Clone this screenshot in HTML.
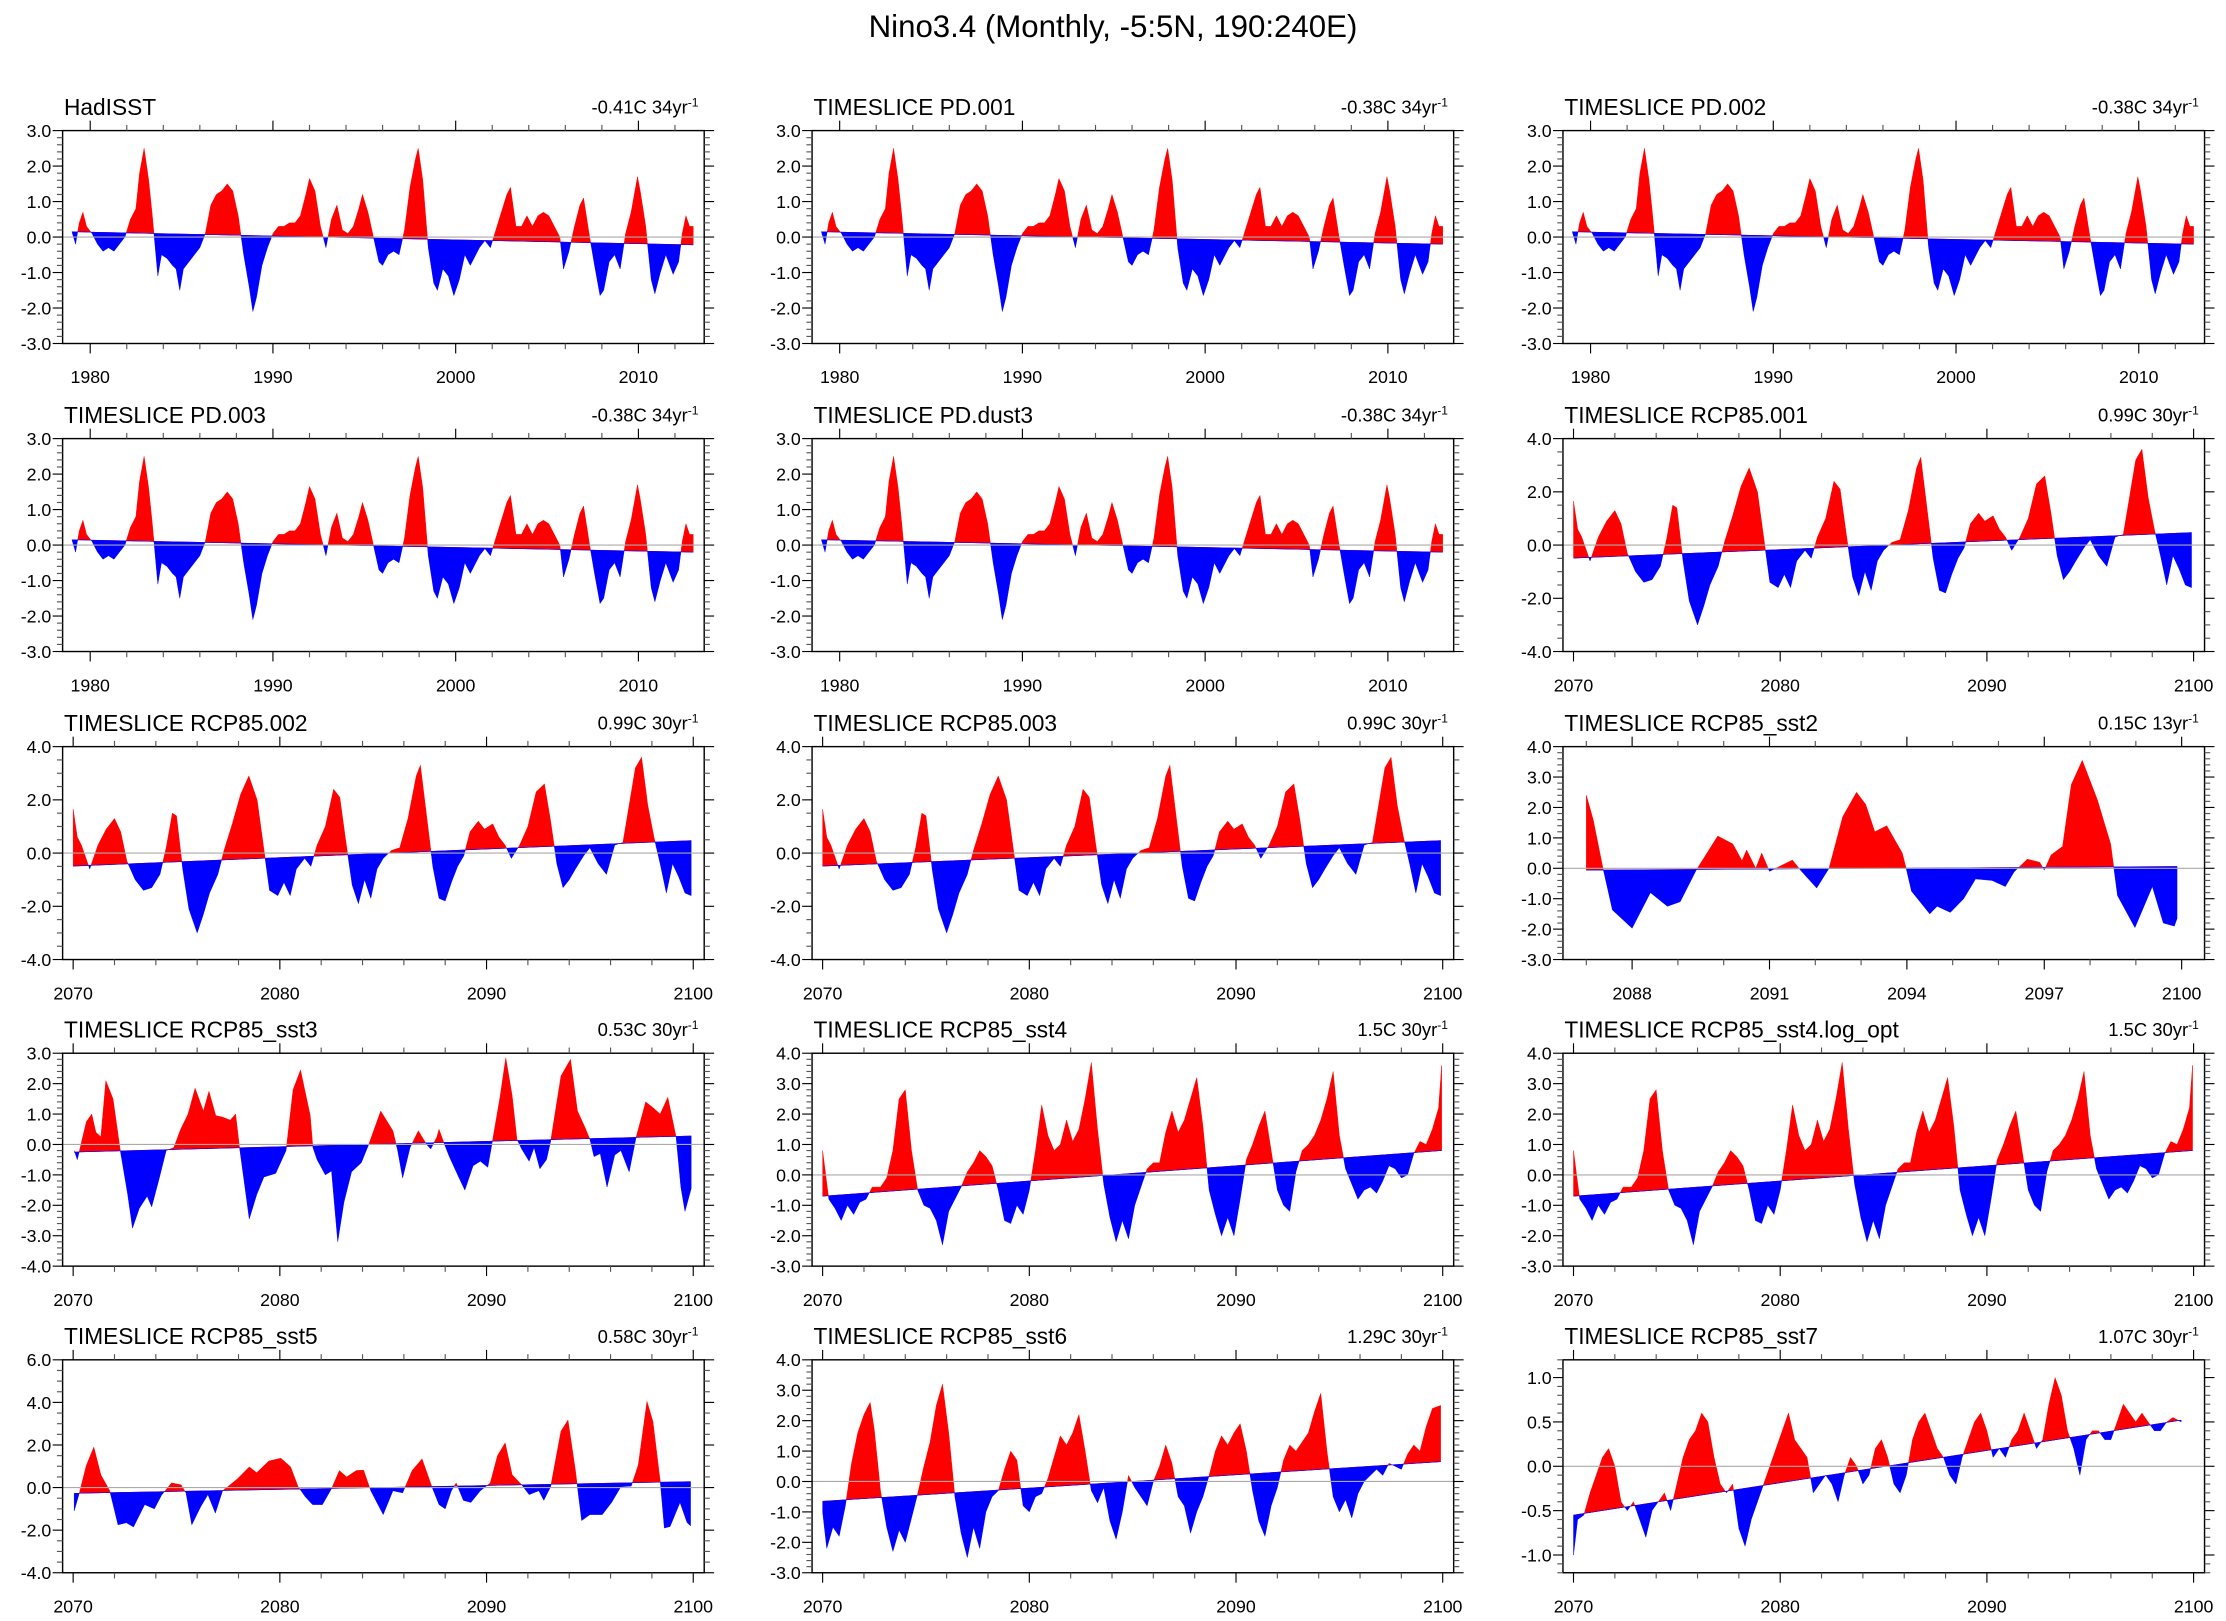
<!DOCTYPE html>
<html><head><meta charset="utf-8"><title>Nino3.4</title>
<style>html,body{margin:0;padding:0;background:#fff}svg{display:block}text{font-family:"Liberation Sans",Arial,sans-serif;fill:#000}</style>
</head><body>
<svg id="chart" xmlns="http://www.w3.org/2000/svg" width="2226" height="1621" viewBox="0 0 1568 1142">
<rect x="0" y="0" width="1568" height="1142" fill="#fff"/>
<text x="784" y="26" font-size="22" text-anchor="middle">Nino3.4 (Monthly, -5:5N, 190:240E)</text>
<g id="panels"></g>
</svg>
<script>
// ---- data (times in decimal years, values in degC) ----
const hadT=[1979.0,1979.2,1979.4,1979.6,1979.8,1980.1,1980.4,1980.7,1981.0,1981.3,1981.6,1981.9,1982.2,1982.5,1982.7,1982.95,1983.2,1983.4,1983.7,1983.9,1984.2,1984.5,1984.7,1984.9,1985.1,1985.4,1985.7,1986.0,1986.3,1986.6,1986.9,1987.2,1987.5,1987.8,1988.1,1988.4,1988.7,1988.9,1989.1,1989.4,1989.7,1990.0,1990.3,1990.6,1990.9,1991.2,1991.5,1991.8,1992.0,1992.3,1992.6,1992.9,1993.2,1993.5,1993.8,1994.1,1994.4,1994.7,1994.9,1995.2,1995.5,1995.8,1996.0,1996.3,1996.6,1996.9,1997.2,1997.5,1997.8,1997.95,1998.2,1998.5,1998.8,1999.0,1999.3,1999.6,1999.9,2000.2,2000.5,2000.8,2001.0,2001.3,2001.6,2001.9,2002.2,2002.5,2002.8,2003.0,2003.3,2003.6,2003.9,2004.2,2004.5,2004.8,2005.1,2005.4,2005.7,2005.9,2006.2,2006.5,2006.8,2007.0,2007.3,2007.6,2007.9,2008.1,2008.4,2008.7,2009.0,2009.3,2009.6,2009.95,2010.1,2010.4,2010.7,2010.9,2011.2,2011.5,2011.9,2012.2,2012.4,2012.6,2012.8,2013.0];
const hadV=[0.15,-0.2,0.4,0.7,0.3,0.1,-0.2,-0.4,-0.3,-0.4,-0.2,0.0,0.5,0.8,1.8,2.5,1.6,0.6,-1.1,-0.5,-0.6,-0.8,-0.9,-1.5,-0.9,-0.7,-0.5,-0.3,0.1,0.9,1.2,1.3,1.5,1.3,0.6,-0.5,-1.4,-2.1,-1.7,-0.8,-0.3,0.1,0.3,0.3,0.4,0.4,0.6,1.2,1.65,1.3,0.3,-0.3,0.5,0.9,0.2,0.1,0.3,0.8,1.2,0.7,0.0,-0.7,-0.8,-0.5,-0.4,-0.5,0.2,1.4,2.2,2.5,1.6,-0.3,-1.3,-1.5,-0.9,-1.1,-1.65,-1.2,-0.5,-0.8,-0.6,-0.3,-0.1,-0.3,0.2,0.7,1.2,1.4,0.3,0.3,0.6,0.3,0.6,0.7,0.6,0.3,0.0,-0.9,-0.4,0.3,0.9,1.1,0.1,-0.8,-1.65,-1.5,-0.7,-0.5,-0.9,0.1,0.7,1.7,1.3,0.3,-1.2,-1.6,-1.0,-0.5,-1.05,-0.7,0.1,0.6,0.3,0.3];

const r1T=[2070.0,2070.2,2070.4,2070.8,2071.2,2071.6,2072.0,2072.3,2072.6,2073.0,2073.4,2073.8,2074.2,2074.5,2074.8,2075.0,2075.3,2075.6,2076.0,2076.3,2076.6,2077.0,2077.3,2077.7,2078.1,2078.5,2078.9,2079.2,2079.5,2079.9,2080.2,2080.5,2080.8,2081.2,2081.5,2081.8,2082.2,2082.6,2082.9,2083.2,2083.5,2083.8,2084.1,2084.4,2084.7,2085.0,2085.4,2085.8,2086.2,2086.6,2086.8,2087.1,2087.4,2087.7,2088.0,2088.3,2088.6,2088.9,2089.2,2089.6,2089.9,2090.3,2090.6,2090.9,2091.2,2091.6,2092.0,2092.4,2092.8,2093.1,2093.4,2093.7,2094.0,2094.3,2094.7,2095.0,2095.4,2095.8,2096.2,2096.6,2096.9,2097.2,2097.5,2097.8,2098.1,2098.4,2098.7,2099.0,2099.3,2099.6,2099.9];
const r1V=[1.65,0.6,0.3,-0.6,0.3,0.9,1.3,0.8,-0.3,-1.0,-1.4,-1.3,-0.8,0.2,1.5,1.4,-0.6,-2.1,-3.0,-2.3,-1.5,-0.8,0.1,1.1,2.2,2.9,2.0,0.3,-1.4,-1.6,-1.1,-1.6,-0.6,-0.2,-0.5,0.3,1.0,2.4,2.1,0.4,-1.2,-1.9,-1.0,-1.7,-0.6,-0.2,0.1,0.2,1.3,2.9,3.3,1.4,-0.5,-1.7,-1.8,-1.1,-0.5,-0.1,0.8,1.2,0.9,1.1,0.6,0.3,-0.2,0.3,1.0,2.3,2.6,1.2,-0.4,-1.3,-1.0,-0.6,-0.1,0.2,-0.4,-0.8,0.3,0.4,1.8,3.2,3.6,1.8,0.6,-0.4,-1.5,-0.4,-0.9,-1.5,-1.6];

const s2T=[2087.0,2087.15,2087.35,2087.57,2088.0,2088.4,2088.77,2089.05,2089.4,2089.87,2090.2,2090.4,2090.5,2090.7,2090.83,2091.0,2091.5,2091.7,2092.03,2092.3,2092.6,2092.9,2093.1,2093.3,2093.56,2093.9,2094.0,2094.1,2094.5,2094.66,2094.95,2095.24,2095.5,2095.86,2096.15,2096.34,2096.63,2096.9,2097.0,2097.15,2097.4,2097.59,2097.83,2098.16,2098.45,2098.6,2098.98,2099.36,2099.6,2099.84,2099.9];
const s2V=[2.4,1.6,0.1,-1.37,-1.97,-0.8,-1.25,-1.1,-0.06,1.06,0.8,0.25,0.6,0.0,0.5,-0.1,0.27,-0.1,-0.65,0.0,1.7,2.5,2.1,1.2,1.4,0.5,-0.1,-0.75,-1.5,-1.25,-1.45,-1.0,-0.35,-0.4,-0.6,-0.12,0.3,0.2,-0.06,0.44,0.72,2.75,3.55,2.25,0.8,-0.9,-1.95,-0.6,-1.8,-1.9,-1.65];

const s3T=[2070.05,2070.2,2070.64,2070.9,2071.1,2071.34,2071.58,2071.93,2072.28,2072.64,2072.87,2073.2,2073.58,2073.8,2074.17,2074.5,2074.87,2075.2,2075.56,2075.9,2076.3,2076.57,2076.9,2077.23,2077.6,2077.86,2078.05,2078.52,2078.88,2079.23,2079.8,2080.3,2080.64,2081.0,2081.47,2081.6,2081.8,2082.2,2082.5,2082.8,2083.1,2083.47,2083.94,2084.3,2084.88,2085.47,2085.7,2085.94,2086.3,2086.7,2087.1,2087.3,2087.6,2087.7,2087.94,2088.2,2088.65,2088.95,2089.35,2089.7,2090.06,2090.3,2090.65,2090.93,2091.24,2091.47,2091.7,2092.06,2092.3,2092.58,2092.9,2093.1,2093.6,2094.06,2094.4,2094.77,2095.0,2095.2,2095.5,2095.83,2096.2,2096.5,2096.9,2097.24,2097.7,2098.07,2098.4,2098.77,2099.17,2099.4,2099.6,2099.9];
const s3V=[-0.2,-0.5,0.75,1.0,0.4,0.25,2.1,1.5,-0.2,-1.65,-2.75,-2.1,-1.7,-2.05,-1.1,-0.2,-0.1,0.5,1.0,1.85,1.1,1.75,0.95,0.9,0.8,1.0,-0.1,-2.45,-1.65,-1.07,-0.95,-0.2,1.8,2.45,0.95,-0.1,-0.5,-1.0,-0.87,-3.2,-1.9,-0.9,-0.6,0.0,1.1,0.45,-0.2,-1.1,-0.1,0.45,0.0,-0.15,0.25,0.5,0.05,-0.4,-1.07,-1.5,-0.7,-0.55,-0.75,0.17,1.55,2.85,1.6,0.17,-0.15,-0.55,-0.1,-0.8,-0.5,0.1,2.25,2.8,1.1,0.55,0.17,-0.4,-0.3,-1.4,-0.35,-0.2,-0.9,0.25,1.4,1.2,1.0,1.55,0.25,-1.4,-2.2,-1.45];

const s4T=[2070.0,2070.3,2070.6,2070.9,2071.2,2071.5,2071.8,2072.1,2072.4,2072.8,2073.1,2073.4,2073.7,2074.0,2074.3,2074.6,2074.9,2075.2,2075.5,2075.8,2076.1,2076.4,2076.7,2077.0,2077.3,2077.6,2077.9,2078.2,2078.5,2078.8,2079.1,2079.4,2079.7,2080.0,2080.3,2080.6,2080.9,2081.2,2081.5,2081.8,2082.1,2082.4,2082.7,2083.0,2083.3,2083.6,2083.9,2084.2,2084.5,2084.8,2085.1,2085.4,2085.7,2086.0,2086.3,2086.6,2086.9,2087.2,2087.5,2087.8,2088.1,2088.4,2088.7,2089.0,2089.3,2089.6,2089.9,2090.2,2090.5,2090.8,2091.1,2091.4,2091.7,2092.0,2092.3,2092.6,2092.9,2093.2,2093.5,2093.8,2094.1,2094.4,2094.7,2095.0,2095.3,2095.6,2095.9,2096.2,2096.5,2096.8,2097.1,2097.4,2097.7,2098.0,2098.3,2098.6,2098.9,2099.2,2099.5,2099.8,2099.95];
const s4V=[0.8,-0.8,-1.1,-1.5,-1.0,-1.3,-0.9,-0.8,-0.4,-0.4,-0.1,0.8,2.5,2.8,0.8,-0.5,-1.0,-1.1,-1.5,-2.3,-1.2,-0.8,-0.4,0.1,0.4,0.8,0.6,0.3,-0.5,-1.5,-1.6,-1.0,-1.3,-0.5,0.8,2.3,1.3,0.8,1.0,1.8,1.1,1.5,2.5,3.7,1.5,-0.3,-1.4,-2.2,-1.5,-2.1,-1.0,-0.4,0.2,0.4,0.4,1.4,2.1,1.4,1.8,2.5,3.2,1.6,-0.5,-1.3,-2.0,-1.4,-2.0,-0.8,0.5,1.0,1.6,2.1,0.8,-0.5,-1.0,-1.2,0.1,0.8,1.0,1.3,1.8,2.5,3.4,1.3,0.2,-0.3,-0.8,-0.5,-0.4,-0.6,-0.2,0.3,0.2,-0.1,0.0,0.7,1.1,1.0,1.5,2.2,3.6];

const s5T=[2070.05,2070.3,2070.64,2071.0,2071.34,2071.77,2072.17,2072.57,2072.92,2073.46,2073.93,2074.28,2074.76,2075.22,2075.46,2075.74,2076.17,2076.52,2076.88,2077.23,2077.94,2078.52,2078.88,2079.47,2080.05,2080.52,2080.88,2081.23,2081.58,2082.06,2082.5,2082.88,2083.23,2083.7,2084.05,2084.4,2085.0,2085.47,2085.94,2086.4,2086.88,2087.35,2087.7,2088.0,2088.3,2088.53,2088.88,2089.24,2089.7,2090.18,2090.53,2090.9,2091.24,2091.7,2092.06,2092.53,2092.77,2093.1,2093.6,2093.94,2094.3,2094.6,2095.0,2095.6,2096.05,2096.5,2097.0,2097.34,2097.76,2098.05,2098.4,2098.6,2098.88,2099.36,2099.7,2099.87];
const s5V=[-1.1,-0.25,1.05,1.9,0.6,-0.15,-1.75,-1.65,-1.85,-0.8,-1.0,-0.35,0.22,0.13,-0.25,-1.75,-0.9,-0.33,-1.2,-0.15,0.4,0.97,0.7,1.25,1.38,0.97,0.05,-0.43,-0.8,-0.8,-0.05,0.8,0.5,0.8,0.82,-0.15,-1.27,-0.15,-0.25,0.8,1.35,0.05,-0.8,-1.0,-0.15,0.22,-0.6,-0.7,-0.15,0.22,1.5,2.1,0.6,0.13,-0.33,-0.15,-0.6,0.04,2.65,3.17,0.8,-1.55,-1.27,-1.27,-0.7,0.04,0.07,1.06,4.05,3.1,0.32,-1.9,-1.83,-0.7,-1.64,-1.8];

const s6T=[2070.0,2070.2,2070.5,2070.8,2071.1,2071.4,2071.7,2072.0,2072.3,2072.5,2072.8,2073.1,2073.4,2073.7,2074.0,2074.3,2074.6,2074.9,2075.2,2075.5,2075.8,2076.1,2076.4,2076.7,2077.0,2077.3,2077.6,2077.9,2078.2,2078.5,2078.8,2079.1,2079.4,2079.7,2080.0,2080.3,2080.6,2080.9,2081.2,2081.5,2081.8,2082.1,2082.4,2082.7,2083.0,2083.3,2083.6,2083.9,2084.2,2084.5,2084.8,2085.1,2085.4,2085.7,2086.0,2086.3,2086.6,2086.9,2087.2,2087.5,2087.8,2088.1,2088.4,2088.7,2089.0,2089.3,2089.6,2089.9,2090.2,2090.5,2090.8,2091.1,2091.4,2091.7,2092.0,2092.3,2092.6,2092.9,2093.2,2093.5,2093.8,2094.1,2094.4,2094.7,2095.0,2095.3,2095.6,2095.9,2096.2,2096.5,2096.8,2097.1,2097.4,2097.7,2098.0,2098.3,2098.6,2098.9,2099.2,2099.5,2099.9];
const s6V=[-1.0,-2.2,-1.5,-1.8,-0.8,0.6,1.6,2.2,2.6,1.7,-0.3,-1.5,-2.3,-1.6,-2.0,-1.2,-0.4,0.5,1.3,2.5,3.2,1.6,-0.5,-1.7,-2.5,-1.5,-2.2,-1.0,-0.5,-0.3,0.4,1.0,0.7,-0.8,-1.0,-0.5,-0.4,0.1,0.8,1.5,1.2,1.6,2.2,1.0,-0.3,-0.7,-0.2,-1.3,-1.9,-1.0,0.2,-0.2,-0.5,-0.8,0.0,0.5,1.2,0.6,-0.5,-0.8,-1.7,-1.0,-0.5,0.2,1.0,1.5,1.2,1.6,1.9,1.0,-0.3,-1.3,-1.8,-0.8,-0.2,0.7,1.2,1.0,1.3,1.6,2.3,2.9,1.0,-0.5,-1.0,-0.6,-1.2,-0.4,0.0,0.2,0.4,0.2,0.6,0.5,0.4,0.9,1.2,1.0,1.8,2.4,2.5];

const s7T=[2070.0,2070.2,2070.5,2070.8,2071.1,2071.4,2071.7,2072.0,2072.3,2072.6,2072.9,2073.2,2073.5,2073.8,2074.1,2074.4,2074.7,2075.0,2075.3,2075.6,2075.9,2076.2,2076.5,2076.8,2077.1,2077.4,2077.7,2078.0,2078.3,2078.6,2078.9,2079.2,2079.5,2079.8,2080.1,2080.4,2080.7,2081.0,2081.3,2081.6,2081.9,2082.2,2082.5,2082.8,2083.1,2083.4,2083.7,2084.0,2084.3,2084.6,2084.9,2085.2,2085.5,2085.8,2086.1,2086.4,2086.7,2087.0,2087.3,2087.6,2087.9,2088.2,2088.5,2088.8,2089.1,2089.4,2089.7,2090.0,2090.3,2090.6,2090.9,2091.2,2091.5,2091.8,2092.1,2092.4,2092.7,2093.0,2093.3,2093.6,2093.9,2094.2,2094.5,2094.8,2095.1,2095.4,2095.7,2096.0,2096.3,2096.6,2096.9,2097.2,2097.5,2097.8,2098.1,2098.4,2098.7,2099.0,2099.4];
const s7V=[-1.0,-0.6,-0.55,-0.3,-0.1,0.1,0.2,0.0,-0.4,-0.5,-0.4,-0.6,-0.8,-0.5,-0.4,-0.3,-0.5,-0.2,0.1,0.3,0.4,0.6,0.5,0.1,-0.2,-0.3,-0.2,-0.7,-0.9,-0.6,-0.4,-0.2,0.0,0.2,0.4,0.6,0.3,0.2,0.1,-0.3,-0.2,-0.1,-0.2,-0.4,-0.1,0.1,0.0,-0.2,-0.1,0.2,0.3,0.1,-0.2,-0.3,-0.1,0.3,0.5,0.6,0.4,0.2,0.1,-0.1,-0.2,0.1,0.3,0.5,0.6,0.4,0.1,0.2,0.1,0.3,0.4,0.6,0.4,0.2,0.3,0.7,1.0,0.8,0.4,0.2,-0.1,0.3,0.4,0.4,0.3,0.3,0.5,0.7,0.6,0.5,0.6,0.5,0.4,0.4,0.5,0.55,0.5];

// trend line endpoint values [start, end] at first/last sample
const trendHad=[0.15,-0.22];
const trendPD=[0.15,-0.2];
const trendR1=[-0.49,0.47];
const trendS2=[-0.06,0.06];
const trendS3=[-0.25,0.28];
const trendS4=[-0.7,0.8];
const trendS5=[-0.27,0.28];
const trendS6=[-0.65,0.65];
const trendS7=[-0.55,0.52];

const titles=['HadISST','TIMESLICE PD.001','TIMESLICE PD.002','TIMESLICE PD.003','TIMESLICE PD.dust3','TIMESLICE RCP85.001','TIMESLICE RCP85.002','TIMESLICE RCP85.003','TIMESLICE RCP85_sst2','TIMESLICE RCP85_sst3','TIMESLICE RCP85_sst4','TIMESLICE RCP85_sst4.log_opt','TIMESLICE RCP85_sst5','TIMESLICE RCP85_sst6','TIMESLICE RCP85_sst7'];
const rightLabels=['-0.41C 34yr','-0.38C 34yr','-0.38C 34yr','-0.38C 34yr','-0.38C 34yr','0.99C 30yr','0.99C 30yr','0.99C 30yr','0.15C 13yr','0.53C 30yr','1.5C 30yr','1.5C 30yr','0.58C 30yr','1.29C 30yr','1.07C 30yr'];
const seriesT=[hadT,hadT,hadT,hadT,hadT,r1T,r1T,r1T,s2T,s3T,s4T,s4T,s5T,s6T,s7T];
const seriesV=[hadV,hadV,hadV,hadV,hadV,r1V,r1V,r1V,s2V,s3V,s4V,s4V,s5V,s6V,s7V];
const trends=[trendHad,trendPD,trendPD,trendPD,trendPD,trendR1,trendR1,trendR1,trendS2,trendS3,trendS4,trendS4,trendS5,trendS6,trendS7];
// axis ranges [min,max,major,minor]
const yAxes=[[-3,3,1,0.2],[-3,3,1,0.2],[-3,3,1,0.2],[-3,3,1,0.2],[-3,3,1,0.2],[-4,4,2,0.5],[-4,4,2,0.5],[-4,4,2,0.5],[-3,4,1,0.2],[-4,3,1,0.2],[-3,4,1,0.2],[-3,4,1,0.2],[-4,6,2,0.5],[-3,4,1,0.2],[-1.2,1.2,0.5,0.1]];
const xPD=[1978.49,2013.6,1980,10,2], xRCP=[2069.49,2100.53,2070,10,2], xS2=[2086.49,2100.5,2088,3,1];
const xAxes=[xPD,xPD,xPD,xPD,xPD,xRCP,xRCP,xRCP,xS2,xRCP,xRCP,xRCP,xRCP,xRCP,xRCP];

const NS='http://www.w3.org/2000/svg';
const colX=[44,572,1101], rowY=[92,309,526,742,958], PW=452, PH=150;
function mk(tag,attrs,parent){const e=document.createElementNS(NS,tag);for(const k in attrs)e.setAttribute(k,attrs[k]);parent.appendChild(e);return e;}
const root=document.getElementById('panels');

for(let i=0;i<15;i++){
  const x0=colX[i%3], y0=rowY[Math.floor(i/3)];
  const [ymin,ymax,ymaj,ymin2]=yAxes[i];
  const [xmin,xmax,xlab0,xmaj,xmin2]=xAxes[i];
  const sx=t=>x0+(t-xmin)/(xmax-xmin)*PW;
  const sy=v=>y0+(ymax-v)/(ymax-ymin)*PH;
  const ts=seriesT[i], vs=seriesV[i], tr=trends[i];
  const t0=ts[0], t1=ts[ts.length-1];
  const trf=t=>tr[0]+(tr[1]-tr[0])*(t-t0)/(t1-t0);
  const g=mk('g',{},root);
  
  
  const pts=[];
  for(let k=0;k<ts.length;k++){
    const d=vs[k]-trf(ts[k]);
    if(k>0){const dp=vs[k-1]-trf(ts[k-1]);
      if(dp*d<0){const f=dp/(dp-d);const tc=ts[k-1]+f*(ts[k]-ts[k-1]);pts.push([tc,trf(tc)]);}}
    pts.push([ts[k],vs[k]]);
  }
  let up='',dn='';
  pts.forEach((p,k)=>{const b=trf(p[0]);const c=(k?'L':'M');
    up+=c+sx(p[0]).toFixed(2)+','+sy(Math.max(p[1],b)).toFixed(2);
    dn+=c+sx(p[0]).toFixed(2)+','+sy(Math.min(p[1],b)).toFixed(2);});
  const back='L'+sx(t1).toFixed(2)+','+sy(tr[1]).toFixed(2)+'L'+sx(t0).toFixed(2)+','+sy(tr[0]).toFixed(2)+'Z';
  const red=mk('path',{d:up+back,fill:'#ff0000',stroke:'#ff0000','stroke-width':0.3},g);
  
  
  const blue=mk('path',{d:dn+back,fill:'#0000ff',stroke:'#0000ff','stroke-width':0.3},g);
  
  
  const zl=mk('line',{x1:x0,x2:x0+PW,y1:sy(0),y2:sy(0),stroke:'#aaaaaa','stroke-width':0.8},g);
  
  
  const fr=mk('rect',{x:x0,y:y0,width:PW,height:PH,fill:'none',stroke:'#000','stroke-width':1},g);
  
  
  const ny=Math.round((ymax-ymin)/ymin2);
  for(let k=0;k<=ny;k++){
    const v=ymin+k*ymin2;const y=sy(v);
    const isMaj=Math.abs(v/ymaj-Math.round(v/ymaj))<1e-6;
    const L=isMaj?7:4;
    mk('line',{x1:x0-L,x2:x0,y1:y,y2:y,stroke:isMaj?'#000':'#555','stroke-width':0.8},g);
    mk('line',{x1:x0+PW,x2:x0+PW+L,y1:y,y2:y,stroke:isMaj?'#000':'#555','stroke-width':0.8},g);
    if(isMaj){const tl=mk('text',{x:x0-8,y:y+4.5,'font-size':12.5,'text-anchor':'end'},g);tl.textContent=(Math.abs(v)<1e-9?0:v).toFixed(1);
      
      }
  }
  for(let t=Math.ceil(xmin/xmin2)*xmin2;t<=xmax;t+=xmin2){
    const x=sx(t);const isMaj=((t-xlab0)%xmaj+xmaj)%xmaj===0;const L=isMaj?7:4;
    mk('line',{x1:x,x2:x,y1:y0+PH,y2:y0+PH+L,stroke:isMaj?'#000':'#555','stroke-width':0.8},g);
    mk('line',{x1:x,x2:x,y1:y0-L,y2:y0,stroke:isMaj?'#000':'#555','stroke-width':0.8},g);
    if(isMaj){const tl=mk('text',{x:x,y:y0+PH+28,'font-size':12.5,'text-anchor':'middle'},g);tl.textContent=String(t);
      
      }
  }
  const tt=mk('text',{x:x0+1,y:y0-11,'font-size':16},g);tt.textContent=titles[i];
  
  
  const rt=mk('text',{x:x0+PW-4,y:y0-12,'font-size':13,'text-anchor':'end'},g);
  
  
  rt.textContent=rightLabels[i];
  const sup=mk('tspan',{dy:-5,'font-size':8.5},rt);sup.textContent='-1';
}
</script>
</body></html>
